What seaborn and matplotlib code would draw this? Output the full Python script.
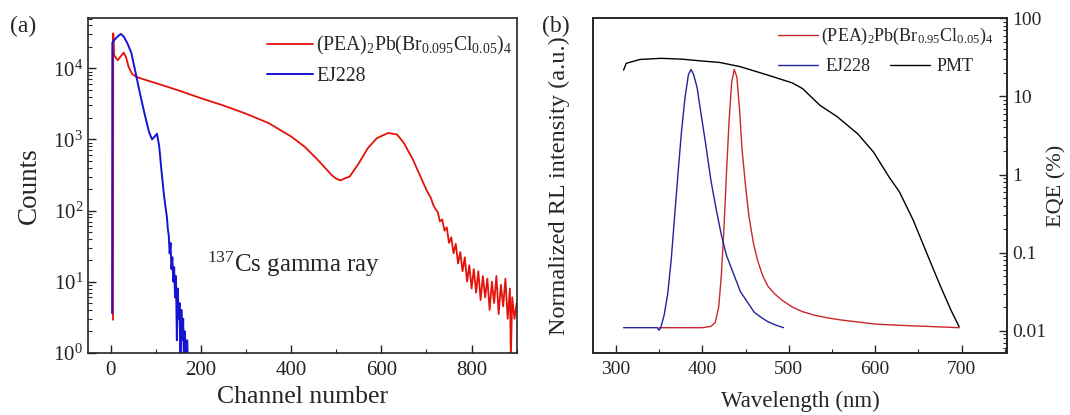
import matplotlib
matplotlib.use('Agg')
import matplotlib.pyplot as plt
import seaborn as sns
from matplotlib.ticker import AutoMinorLocator, FixedLocator, FormatStrFormatter, LogLocator, NullFormatter

# ---- (a) pulse height spectra, 137Cs ----
ch_pea = [5.5, 6, 8, 12, 16, 22, 29, 34, 40, 48, 57, 70, 100, 150, 200, 250, 300, 350, 400,
          430, 460, 490, 500, 510, 520, 530, 550, 570, 590, 615, 635, 650, 670, 690,
          700, 705, 710, 715, 720, 725, 730, 735, 740, 745, 750, 755, 760, 765, 770, 775,
          780, 785, 790, 795, 800, 805, 810, 815, 820, 825, 830, 835, 840, 845, 850, 855,
          860, 865, 870, 875, 880, 885, 887, 890, 895, 900]
counts_pea = [2.9, 31000, 15400, 14000, 13000, 14500, 16600, 14500, 10500, 8300, 7600, 7100,
              6200, 4900, 3800, 3000, 2300, 1700, 1100,
              790, 510, 315, 280, 265, 285, 300, 460, 750, 1040, 1230, 1170, 890, 520, 270,
              195, 170, 150, 120, 105, 95, 70, 75, 52, 58, 35, 42, 25, 34, 18, 26,
              14, 22, 10, 17, 8, 15, 7, 14, 5.5, 12, 6, 11, 4, 10, 5, 12,
              3.5, 9, 4.5, 11, 3, 8, 0.8, 6, 3, 5]

ch_ej = [3.5, 4, 10, 17, 23, 30, 38, 46, 55, 65, 75, 85, 92, 98, 103, 108, 112, 118, 122,
         125, 127, 129, 131, 133, 135, 137, 139, 141, 143, 145, 147, 149, 151, 153, 155,
         157, 159, 161, 163, 165, 167, 170, 172]
counts_ej = [3.6, 22800, 25700, 28500, 30400, 27500, 22000, 16500, 9000, 4500, 2350, 1290,
             1000, 1100, 1200, 790, 415, 174, 110,
             80, 55, 45, 25, 35, 15, 22, 10, 16, 6, 12, 1.5, 8, 3, 5, 0.5,
             4, 1.5, 3, 0.5, 2, 0.5, 1.5, 0.5]

# ---- (b) RL spectra and PMT EQE ----
wl_ej = [309, 330, 348, 350, 352, 356, 360, 364, 368, 372, 376, 380, 384, 387, 390, 394, 398,
         404, 410, 416, 422, 428, 436, 444, 452, 460, 468, 476, 485, 494]
rl_ej = [0, 0, 0, -0.01, 0.0, 0.05, 0.13, 0.26, 0.43, 0.6, 0.76, 0.89, 0.98, 1.0, 0.98, 0.93,
         0.84, 0.71, 0.57, 0.46, 0.36, 0.28, 0.21, 0.14, 0.1, 0.06, 0.04, 0.023, 0.01, 0.0]

wl_pea = [350, 380, 400, 410, 415, 419, 422, 425, 428, 431, 434, 437, 440, 443, 446, 450, 454,
          459, 464, 470, 476, 484, 492, 504, 516, 530, 545, 560, 580, 600, 630, 660, 697]
rl_pea = [0, 0, 0, 0.005, 0.02, 0.08, 0.2, 0.38, 0.6, 0.8, 0.95, 1.0, 0.97, 0.85, 0.69, 0.55,
          0.43, 0.33, 0.26, 0.2, 0.16, 0.13, 0.107, 0.08, 0.062, 0.048, 0.038, 0.03, 0.022,
          0.014, 0.009, 0.005, 0.0]

wl_pmt = [309, 312, 328, 352, 376, 396, 420, 444, 476, 504, 516, 536, 556, 580, 598, 616,
          628, 644, 660, 676, 688, 697]
eqe_pmt = [21.7, 26.5, 29.7, 30.7, 30, 28.6, 27.2, 24, 18.7, 14.9, 12.6, 7.7, 5.5, 3.3, 1.94,
           0.93, 0.6, 0.26, 0.096, 0.036, 0.018, 0.0113]

lab_a = r'(PEA)$_2$Pb(Br$_{0.095}$Cl$_{0.05}$)$_4$'
lab_b = r'(PEA)$_2$Pb(Br$_{0.95}$Cl$_{0.05}$)$_4$'

sns.set_style("ticks")
plt.rcParams['font.family'] = ['Liberation Serif', 'DejaVu Serif']
plt.rcParams['mathtext.fontset'] = 'custom'
plt.rcParams['mathtext.rm'] = 'Liberation Serif'
plt.rcParams['mathtext.it'] = 'Liberation Serif:italic'
plt.rcParams['mathtext.bf'] = 'Liberation Serif:bold'
plt.rcParams['axes.linewidth'] = 1.2
plt.rcParams['xtick.direction'] = 'in'
plt.rcParams['ytick.direction'] = 'in'

fig = plt.figure(figsize=(10.7, 4.15), dpi=100)
ax = fig.add_axes([0.0822, 0.150, 0.4007, 0.806])
bx = fig.add_axes([0.5545, 0.1494, 0.3863, 0.8066])

# panel (a)
sns.lineplot(x=ch_pea, y=counts_pea, ax=ax, color='#e3120b', lw=1.3, estimator=None, sort=False, label=lab_a)
sns.lineplot(x=ch_ej, y=counts_ej, ax=ax, color='#1414d2', lw=1.4, estimator=None, sort=False, label='EJ228')
ax.set_yscale('log')
ax.set_xlim(-50, 900)
ax.set_ylim(1, 5.05e4)
ax.set_xticks([0, 200, 400, 600, 800])
ax.xaxis.set_minor_locator(AutoMinorLocator(2))
ax.yaxis.set_major_locator(LogLocator(base=10, numticks=10))
ax.yaxis.set_minor_locator(LogLocator(base=10, subs=range(2, 10), numticks=20))
ax.yaxis.set_minor_formatter(NullFormatter())
ax.tick_params(which='major', length=6, width=1, labelsize=15, colors='#222222', labelcolor='#222222')
ax.tick_params(axis='x', which='major', pad=6)
ax.tick_params(which='minor', length=3, width=0.8)
ax.set_xlabel('Channel number', fontsize=18.5, labelpad=4)
ax.set_ylabel('Counts', fontsize=19.5, labelpad=8)
ax.legend(loc='center left', bbox_to_anchor=(0.418, 0.875), frameon=False, fontsize=14.2,
          handlelength=2.3, handletextpad=0.2, borderpad=0, borderaxespad=0, labelspacing=0.5)
ax.text(0.278, 0.265, r'$^{137}$Cs gamma ray', transform=ax.transAxes, fontsize=18, va='center')

# panel (b)
sns.lineplot(x=wl_pea, y=rl_pea, ax=bx, color='#c8282d', lw=1.0, estimator=None, sort=False)
sns.lineplot(x=wl_ej, y=rl_ej, ax=bx, color='#23239a', lw=1.0, estimator=None, sort=False)
bx.set_xlim(274, 752)
bx.set_ylim(-0.098, 1.198)
bx.set_yticks([])
bx.set_xticks([300, 400, 500, 600, 700])
bx.xaxis.set_minor_locator(AutoMinorLocator(2))
bx.tick_params(which='major', length=6, width=1, labelsize=14, pad=6)
bx.tick_params(which='minor', length=3, width=0.8)
bx.set_xlabel('Wavelength (nm)', fontsize=16.5, labelpad=9)
bx.set_ylabel('Normalized RL intensity (a.u.)', fontsize=17.5, labelpad=17)

br = bx.twinx()
sns.lineplot(x=wl_pmt, y=eqe_pmt, ax=br, color='black', lw=1.0, estimator=None, sort=False)
br.set_yscale('log')
br.set_ylim(0.0052, 100)
br.yaxis.set_major_locator(FixedLocator([0.01, 0.1, 1, 10, 100]))
br.yaxis.set_major_formatter(FormatStrFormatter('%g'))
br.yaxis.set_minor_locator(LogLocator(base=10, subs=range(2, 10), numticks=20))
br.yaxis.set_minor_formatter(NullFormatter())
br.tick_params(which='major', length=6, width=1, labelsize=14, pad=4)
br.tick_params(which='minor', length=3, width=0.8)
br.set_ylabel('EQE (%)', fontsize=16, labelpad=1)

h_red = bx.get_lines()[0]
h_blue = bx.get_lines()[1]
h_blk = br.get_lines()[0]
leg1 = br.legend([h_red], [lab_b], loc='center left', bbox_to_anchor=(0.447, 0.945), frameon=False,
                 fontsize=13, handlelength=2.2, handletextpad=0.2, borderpad=0, borderaxespad=0)
br.add_artist(leg1)
br.legend([h_blue, h_blk], ['EJ228', 'PMT'], ncol=2, loc='center left', bbox_to_anchor=(0.447, 0.855),
          frameon=False, fontsize=13, handlelength=2.2, handletextpad=0.4, columnspacing=1.1,
          borderpad=0, borderaxespad=0)

fig.text(0.009, 0.937, '(a)', fontsize=17, va='center')
fig.text(0.507, 0.937, '(b)', fontsize=17, va='center')

fig.savefig('out.png', dpi=100)
